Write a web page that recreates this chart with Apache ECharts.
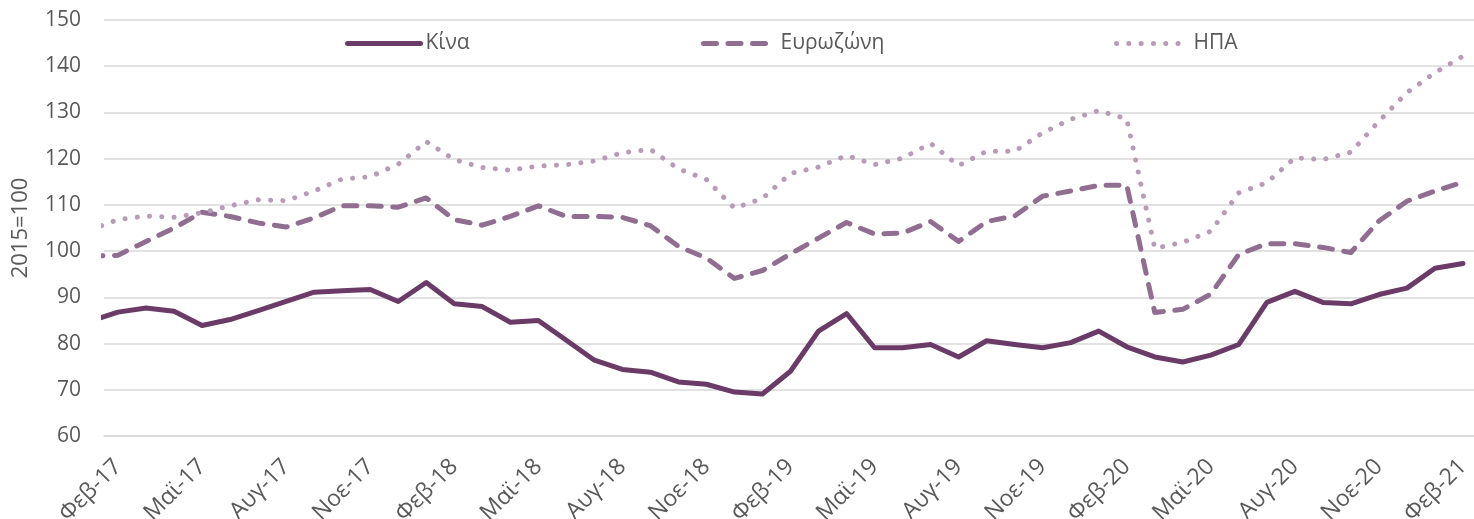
<!DOCTYPE html>
<html>
<head>
<meta charset="utf-8">
<script src="https://cdn.jsdelivr.net/npm/echarts@6/dist/echarts.min.js"></script>
<style>
  html, body { margin: 0; padding: 0; background: #fff; }
  #chart { width: 1474px; height: 519px; }
</style>
</head>
<body>
<div id="chart"></div>
<script>
// μήνες / έτη για τις κατηγορίες (Ιαν-17 ... Φεβ-21)
const monthNames = ['Ιαν', 'Φεβ', 'Μαρ', 'Απρ', 'Μαϊ', 'Ιουν', 'Ιουλ', 'Αυγ', 'Σεπ', 'Οκτ', 'Νοε', 'Δεκ'];
const years = ['17', '18', '19', '20', '21'];
const categories = [];
years.forEach((y, yi) => {
  monthNames.forEach((m, mi) => {
    if (yi === years.length - 1 && mi > 1) return;
    categories.push(m + '-' + y);
  });
});

// Ιαν-17 μόλις φαίνεται στην αριστερή άκρη
const china = [
  84.8, 86.8, 87.7, 87.0, 83.9, 85.2, 87.1, 89.1, 91.1, 91.4, 91.7, 89.1,
  93.2, 88.6, 88.0, 84.6, 85.0, 80.7, 76.4, 74.4, 73.8, 71.7, 71.2, 69.5,
  69.1, 74.0, 82.7, 86.5, 79.1, 79.1, 79.8, 77.1, 80.6, 79.8, 79.1, 80.2,
  82.7, 79.3, 77.1, 76.0, 77.5, 79.8, 88.9, 91.3, 88.9, 88.6, 90.6, 92.0,
  96.3, 97.3
];
const eurozone = [
  98.9, 99.1, 102.1, 105.0, 108.4, 107.5, 106.1, 105.2, 107.2, 109.8, 109.8, 109.5,
  111.5, 106.8, 105.6, 107.5, 109.8, 107.5, 107.5, 107.3, 105.5, 101.0, 98.5, 94.1,
  95.8, 99.4, 102.8, 106.2, 103.7, 103.9, 106.4, 102.1, 106.4, 107.6, 111.9, 113.0,
  114.2, 114.3, 86.7, 87.4, 90.7, 99.3, 101.6, 101.6, 100.8, 99.7, 106.5, 110.8,
  113.0, 114.9
];
const usa = [
  104.6, 106.8, 107.6, 107.3, 108.3, 109.8, 111.1, 110.9, 113.0, 115.6, 116.1, 118.8,
  123.7, 119.8, 118.1, 117.5, 118.4, 118.7, 119.5, 121.3, 122.0, 117.8, 115.5, 109.3,
  111.4, 116.8, 118.2, 120.7, 118.7, 120.1, 123.3, 118.5, 121.6, 121.6, 125.6, 128.5,
  130.4, 128.6, 100.6, 101.9, 104.3, 112.6, 114.8, 120.2, 119.8, 121.4, 128.1, 134.3,
  138.6, 142.2
];

const FONT = 'Open Sans';
const TXT = '#595959';
const GRID_COLOR = '#d9d9d9';

const COL_CHINA = '#6a3b66';
const COL_EZ = '#8f6e8f';
const COL_USA = '#b79cb6';
const DASH_EZ = [13, 11.5];
const DOT_USA = [0.1, 12.2];

// κάθε 3ος μήνας ξεκινώντας από Φεβ-17
const everyThird = (idx) => (idx - 1) % 3 === 0;

const chart = echarts.init(document.getElementById('chart'));

// ένα legend ανά σειρά, για να μπουν ακριβώς στις θέσεις τους
const legendBase = (name, left, width, dash) => ({
  data: [name],
  left: left,
  top: 33,
  padding: 0,
  itemWidth: width,
  itemHeight: 20,
  itemStyle: { opacity: 0 },
  lineStyle: { width: 5, type: dash, cap: 'round' },
  textStyle: { fontFamily: FONT, fontSize: 21, color: TXT }
});

chart.setOption({
  animation: false,
  legend: [
    legendBase('Κίνα', 345, 73, 'solid'),
    legendBase('Ευρωζώνη', 701, 72, DASH_EZ),
    legendBase('ΗΠΑ', 1114, 72, DOT_USA)
  ],
  grid: { left: 104, right: -3, top: 20, bottom: 83, outerBoundsMode: 'none' },
  xAxis: {
    type: 'category',
    data: categories,
    min: 1,
    boundaryGap: true,
    axisLine: { lineStyle: { color: GRID_COLOR, width: 1.5 } },
    axisTick: { interval: everyThird, length: 7, lineStyle: { color: GRID_COLOR, width: 1.5 } },
    axisLabel: {
      interval: everyThird,
      rotate: 45,
      margin: 27,
      fontFamily: FONT,
      fontSize: 23,
      color: TXT
    }
  },
  yAxis: {
    type: 'value',
    min: 60,
    max: 150,
    interval: 10,
    name: '2015=100',
    nameLocation: 'middle',
    nameRotate: 90,
    nameGap: 72,
    nameTextStyle: { fontFamily: FONT, fontSize: 22, color: TXT },
    axisLine: { show: false },
    axisTick: { show: false },
    axisLabel: { margin: 23, fontFamily: FONT, fontSize: 21, color: TXT },
    splitLine: { lineStyle: { color: GRID_COLOR, width: 1.5 } }
  },
  series: [
    {
      name: 'Κίνα',
      type: 'line',
      data: china,
      symbol: 'none',
      clip: true,
      lineStyle: { color: COL_CHINA, width: 5, cap: 'round', join: 'round' },
      itemStyle: { color: COL_CHINA }
    },
    {
      name: 'Ευρωζώνη',
      type: 'line',
      data: eurozone,
      symbol: 'none',
      clip: true,
      lineStyle: { color: COL_EZ, width: 5, type: DASH_EZ, cap: 'round', join: 'round' },
      itemStyle: { color: COL_EZ }
    },
    {
      name: 'ΗΠΑ',
      type: 'line',
      data: usa,
      symbol: 'none',
      clip: true,
      lineStyle: { color: COL_USA, width: 5, type: DOT_USA, cap: 'round', join: 'round' },
      itemStyle: { color: COL_USA }
    }
  ]
});
</script>
</body>
</html>
